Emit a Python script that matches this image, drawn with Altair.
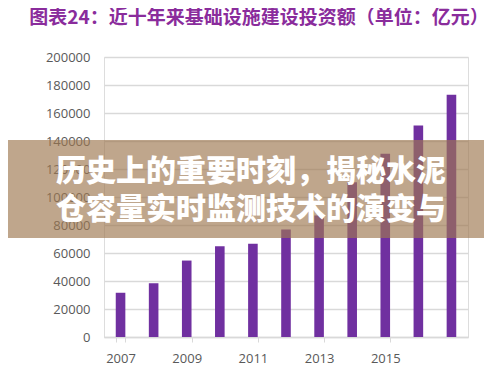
import altair as alt
import pandas as pd

years = ["2007", "2008", "2009", "2010", "2011", "2012", "2013", "2014", "2015", "2016", "2017"]
values = [31600, 38400, 54600, 64900, 66600, 76800, 86800, 110600, 130900, 151000, 173000]
y_ticks = [0, 20000, 40000, 60000, 80000, 100000, 120000, 140000, 160000, 180000, 200000]
x_labels = ["2007", "2009", "2011", "2013", "2015"]
title_text = "图表24：近十年来基础设施建设投资额（单位：亿元）"
banner_lines = ["历史上的重要时刻，揭秘水泥", "仓容量实时监测技术的演变与"]

df = pd.DataFrame({"year": years, "value": values})

W, H = 364, 280

bars = alt.Chart(df).mark_bar(color="#7030A0").encode(
    x=alt.X("year:N", sort=years,
            scale=alt.Scale(paddingInner=0.71, paddingOuter=0.355),
            axis=alt.Axis(values=x_labels, title=None, labelAngle=0, labelFont="Open Sans",
                          labelFontSize=13, labelColor="#595959", labelPadding=10,
                          domainColor="#d9d9d9", domainWidth=1.5, tickColor="#d9d9d9",
                          tickBand="extent", tickSize=5, grid=False)),
    y=alt.Y("value:Q", scale=alt.Scale(domain=[0, 200000], nice=False),
            axis=alt.Axis(values=y_ticks, title=None, labelFont="Open Sans", labelFontSize=13,
                          labelColor="#595959", labelPadding=14, domain=False, ticks=False,
                          gridColor="#d9d9d9", gridWidth=1.5, format="d")),
)

title = alt.Chart(pd.DataFrame({"t": [title_text]})).mark_text(
    font="Noto Sans CJK SC", fontSize=19, fontWeight="bold", color="#8a2c9c",
    align="center", baseline="middle"
).encode(text="t:N", x=alt.value(155), y=alt.value(-39))

banner = alt.Chart(pd.DataFrame({"a": [1]})).mark_rect(
    color="#9e7851", opacity=0.66
).encode(x=alt.value(-104), x2=alt.value(396), y=alt.value(83), y2=alt.value(181))

line1 = alt.Chart(pd.DataFrame({"t": [banner_lines[0]]})).mark_text(
    font="Noto Sans CJK SC", fontSize=30, fontWeight=900, color="white",
    align="center", baseline="middle"
).encode(text="t:N", x=alt.value(147), y=alt.value(115))

line2 = alt.Chart(pd.DataFrame({"t": [banner_lines[1]]})).mark_text(
    font="Noto Sans CJK SC", fontSize=30, fontWeight=900, color="white",
    align="center", baseline="middle"
).encode(text="t:N", x=alt.value(147), y=alt.value(153))

chart = alt.layer(bars, title, banner, line1, line2).properties(
    width=W, height=H,
    autosize=alt.AutoSizeParams(type="none"),
    padding={"left": 96, "top": 49, "right": 16, "bottom": 30},
).configure_view(stroke=None).configure(background="white")

chart.save("out.html", embed_options={"renderer": "svg", "actions": False})
